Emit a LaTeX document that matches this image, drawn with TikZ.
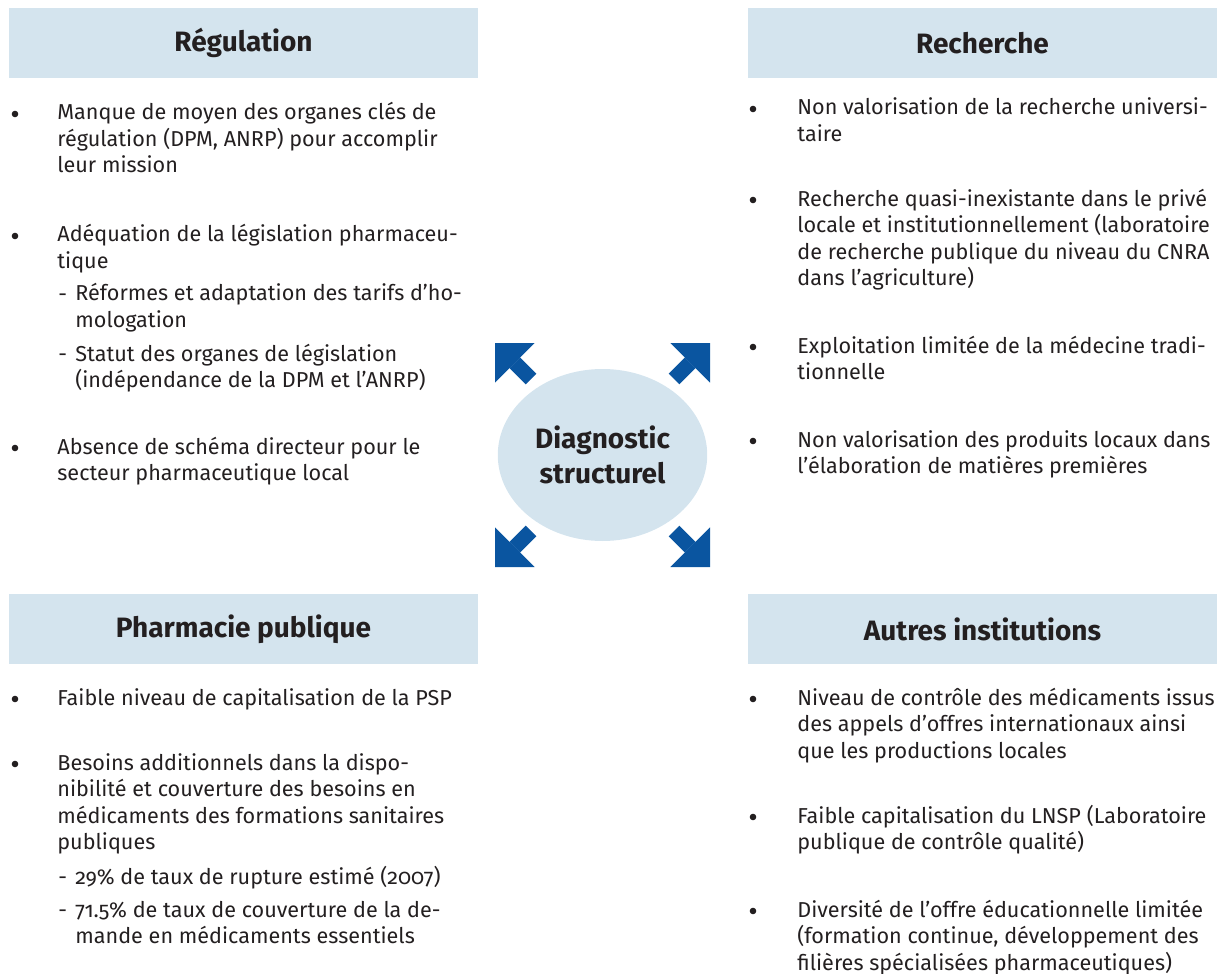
\documentclass[tikz,border=0pt]{standalone}
\usepackage{fontspec}
\setmainfont{Fira Sans}[Numbers=OldStyle]
\usetikzlibrary{arrows.meta,shapes.geometric}
\definecolor{boxblue}{HTML}{D4E4EE}
\definecolor{arrblue}{HTML}{0A55A0}
\definecolor{txtgray}{HTML}{231F20}

\begin{document}
\begin{tikzpicture}[x=0.5pt, y=-0.5pt, color=txtgray,
	titre/.style={fill=boxblue, minimum width=234.5pt, minimum height=35pt, inner sep=0pt,
		font=\bfseries\fontsize{14}{17}\selectfont},
	txt/.style={anchor=base west, inner sep=0pt, align=left, font=\fontsize{10.8}{13.25}\selectfont},
	puce/.style={circle, fill=txtgray, inner sep=0pt, minimum size=3.3pt},
	fleche/.style={arrblue, line width=7.5pt, -{Triangle[length=14pt, width=28pt, line width=0pt]}}]
	\useasboundingbox (0,0) rectangle (1222,974);

	% titres
	\node[titre] (hreg) at (243.5,43) {Régulation};
	\node[titre] (hrech) at (982.5,43) {Recherche};
	\node[titre] (hpharm) at (243.5,629) {Pharmacie publique};
	\node[titre] (hautre) at (982.5,629) {Autres institutions};

	% centre
	\node[ellipse, fill=boxblue, minimum width=102.5pt, minimum height=86pt, align=center,
		font=\bfseries\fontsize{14}{17.5}\selectfont] (diag) at (602.5,455) {Diagnostic\\structurel};
	\coordinate (ulS) at (531,379); \coordinate (ulT) at (495,343);
	\coordinate (urS) at (674,379); \coordinate (urT) at (710,343);
	\coordinate (llS) at (531,531); \coordinate (llT) at (495,567);
	\coordinate (lrS) at (674,531); \coordinate (lrT) at (710,567);
	\draw[fleche] (ulS) -- (ulT);
	\draw[fleche] (urS) -- (urT);
	\draw[fleche] (llS) -- (llT);
	\draw[fleche] (lrS) -- (lrT);

	% Regulation (base = derniere ligne)
	\node[puce] (r1p) at (15,114) {};
	\node[txt] (r1) at (57,173) {Manque de moyen des organes clés de\\régulation (DPM, ANRP) pour accomplir\\leur mission};
	\node[puce] (r2p) at (15,236) {};
	\node[txt] (r2) at (57,268.5) {Adéquation de la législation pharmaceu-\\tique};
	\node[txt] (r2at) at (58,301) {-};
	\node[txt] (r2a) at (75,327.5) {Réformes et adaptation des tarifs d’ho-\\mologation};
	\node[txt] (r2bt) at (58,361) {-};
	\node[txt] (r2b) at (75,387.5) {Statut des organes de législation\\(indépendance de la DPM et l’ANRP)};
	\node[puce] (r3p) at (15,448) {};
	\node[txt] (r3) at (57,480.5) {Absence de schéma directeur pour le\\secteur pharmaceutique local};

	% Recherche
	\node[puce] (c1p) at (753,109) {};
	\node[txt] (c1) at (797,141.5) {Non valorisation de la recherche universi-\\taire};
	\node[puce] (c2p) at (753,200) {};
	\node[txt] (c2) at (797,285.5) {Recherche quasi-inexistante dans le privé\\locale et institutionnellement (laboratoire\\de recherche publique du niveau du CNRA\\dans l’agriculture)};
	\node[puce] (c3p) at (753,347) {};
	\node[txt] (c3) at (797,379.5) {Exploitation limitée de la médecine tradi-\\tionnelle};
	\node[puce] (c4p) at (753,441) {};
	\node[txt] (c4) at (797,473.5) {Non valorisation des produits locaux dans\\l’élaboration de matières premières};

	% Pharmacie publique
	\node[puce] (p1p) at (15,699) {};
	\node[txt] (p1) at (57,705) {Faible niveau de capitalisation de la PSP};
	\node[puce] (p2p) at (15,764) {};
	\node[txt] (p2) at (57,849.5) {Besoins additionnels dans la dispo-\\nibilité et couverture des besoins en\\médicaments des formations sanitaires\\publiques};
	\node[txt] (p2at) at (58,884) {-};
	\node[txt] (p2a) at (75,884) {29\% de taux de rupture estimé (2007)};
	\node[txt] (p2bt) at (58,917) {-};
	\node[txt] (p2b) at (75,943.5) {71.5\% de taux de couverture de la de-\\mande en médicaments essentiels};

	% Autres institutions
	\node[puce] (a1p) at (753,699) {};
	\node[txt] (a1) at (797,758) {Niveau de contrôle des médicaments issus\\des appels d’offres internationaux ainsi\\que les productions locales};
	\node[puce] (a2p) at (753,817) {};
	\node[txt] (a2) at (797,849.5) {Faible capitalisation du LNSP (Laboratoire\\publique de contrôle qualité)};
	\node[puce] (a3p) at (753,911) {};
	\node[txt] (a3) at (797,970) {Diversité de l’offre éducationnelle limitée\\(formation continue, développement des\\filières spécialisées pharmaceutiques)};
\end{tikzpicture}
\end{document}
